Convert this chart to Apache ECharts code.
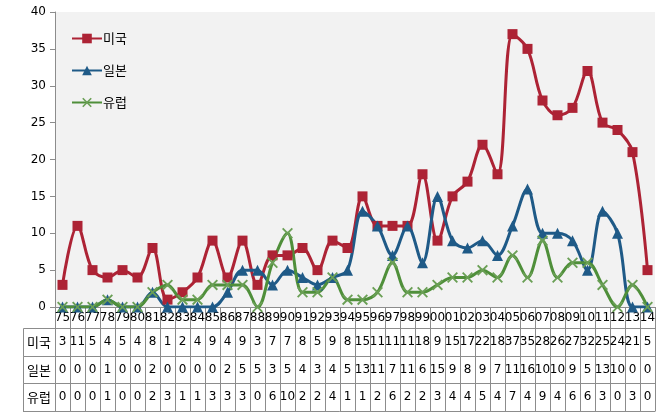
<!DOCTYPE html>
<html><head><meta charset="utf-8">
<script src="https://cdn.jsdelivr.net/npm/echarts@6/dist/echarts.min.js"></script>
<style>html,body{margin:0;padding:0;background:#fff}#c{width:672px;height:420px}</style>
</head><body><div id="c"></div>
<script>
const years = ['75','76','77','78','79','80','81','82','83','84','85','86','87','88','89','90','91','92','93','94','95','96','97','98','99','00','01','02','03','04','05','06','07','08','09','10','11','12','13','14'];
const seriesNames = ['미국','일본','유럽'];
const usa = [3,11,5,4,5,4,8,1,2,4,9,4,9,3,7,7,8,5,9,8,15,11,11,11,18,9,15,17,22,18,37,35,28,26,27,32,25,24,21,5];
const japan = [0,0,0,1,0,0,2,0,0,0,0,2,5,5,3,5,4,3,4,5,13,11,7,11,6,15,9,8,9,7,11,16,10,10,9,5,13,10,0,0];
const europe = [0,0,0,1,0,0,2,3,1,1,3,3,3,0,6,10,2,2,4,1,1,2,6,2,2,3,4,4,5,4,7,4,9,4,6,6,3,0,3,0];
const yTicks = {min:0, max:40, interval:5};

const colors = ['#AD2335','#1F5A87','#4F8F3A'];
const border = '#8c8c8c';
const font = 'DejaVu Sans';
const cjk = 'Noto Sans CJK KR';
const xMark = 'path://M0,1.2 L1.2,0 L10,8.8 L8.8,10 Z M8.8,0 L10,1.2 L1.2,10 L0,8.8 Z';

const rowAxis = (vals, offset) => ({
  type:'category', data: vals.map(String), gridIndex:0, position:'bottom', offset: offset,
  boundaryGap:true,
  axisLine:{show:true, lineStyle:{color:border, width:1}},
  axisTick:{show:true, length:28, inside:false, lineStyle:{color:border}},
  axisLabel:{show:true, interval:0, margin:8, fontSize:12, fontFamily:font, color:'#000'},
  splitLine:{show:false}
});

const chart = echarts.init(document.getElementById('c'), null, {renderer:'canvas'});
const offsets = [21, 49, 76];
const rowTop = [328, 356, 383];
const graphics = [];
seriesNames.forEach((n,i)=>{
  graphics.push({type:'rect', shape:{x:23.5, y:rowTop[i]+0.5, width:32, height:(i<2?rowTop[i+1]:411)-rowTop[i]}, style:{fill:'none', stroke:border, lineWidth:1}});
  graphics.push({type:'text', x:39, y:rowTop[i]+14, style:{text:n, font:'13px "'+cjk+'"', fill:'#000', align:'center', verticalAlign:'middle'}});
});
graphics.push({type:'line', shape:{x1:23, y1:411.5, x2:655.5, y2:411.5}, style:{stroke:border, lineWidth:1}});

chart.setOption({
  animation:false,
  backgroundColor:'#fff',
  color: colors,
  grid:{left:55, right:17, top:12, bottom:113, show:true, backgroundColor:'#f2f2f2', borderWidth:0},
  legend:{
    orient:'vertical', left:66, top:27, itemGap:19, itemWidth:30, itemHeight:12,
    textStyle:{fontFamily:cjk, fontSize:13, color:'#000', padding:[0,0,0,-4]},
    data: seriesNames
  },
  xAxis:[
    {type:'category', data:years, boundaryGap:true, position:'bottom',
     axisLine:{show:true, lineStyle:{color:border}},
     axisTick:{show:true, length:21, inside:false, lineStyle:{color:border}},
     axisLabel:{interval:0, margin:5, fontSize:12, fontFamily:font, color:'#000'}},
    rowAxis(usa, offsets[0]), rowAxis(japan, offsets[1]), rowAxis(europe, offsets[2])
  ],
  yAxis:{type:'value', min:yTicks.min, max:yTicks.max, interval:yTicks.interval,
    axisLine:{show:true, lineStyle:{color:border}},
    axisTick:{show:true, length:5, lineStyle:{color:border}},
    axisLabel:{fontSize:12, fontFamily:font, color:'#000', margin:9},
    splitLine:{show:false}},
  series:[
    {name:seriesNames[0], type:'line', data:usa, smooth:0.35, symbol:'rect', symbolSize:10,
     lineStyle:{width:3, color:colors[0]}, itemStyle:{color:colors[0]}},
    {name:seriesNames[1], type:'line', data:japan, smooth:0.35, symbol:'triangle', symbolSize:11,
     lineStyle:{width:3, color:colors[1]}, itemStyle:{color:colors[1]}},
    {name:seriesNames[2], type:'line', data:europe, smooth:0.35, symbol:xMark, symbolSize:11,
     lineStyle:{width:3, color:colors[2]}, itemStyle:{color:'#6a9f55'}}
  ],
  graphic: graphics
});
</script></body></html>
